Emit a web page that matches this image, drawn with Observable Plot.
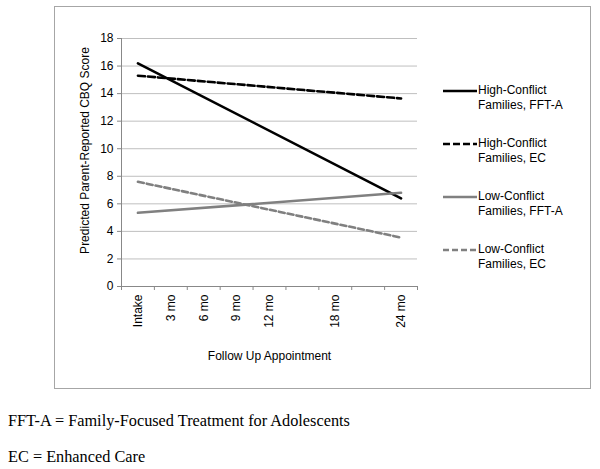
<!DOCTYPE html>
<html><head><meta charset="utf-8">
<script src="https://cdn.jsdelivr.net/npm/d3@7"></script>
<script src="https://cdn.jsdelivr.net/npm/@observablehq/plot@0.6"></script>
<style>
body{margin:0;background:#fff;font-family:"Liberation Sans",Arial,sans-serif;}
#wrap{position:relative;width:600px;height:469px;overflow:hidden;}
#frame{position:absolute;left:54px;top:6px;width:535px;height:381px;border:1px solid #a6a6a6;}
#chart{position:absolute;left:0;top:0;}
.leg{position:absolute;left:443px;font-size:12px;line-height:15px;color:#000;}
.leg svg{position:absolute;left:0;top:6px;}
.leg span{position:absolute;left:35px;top:0;white-space:nowrap;}
.cap{position:absolute;left:8px;font-family:"Liberation Serif","Times New Roman",serif;font-size:16.3px;color:#000;white-space:nowrap;}
</style></head>
<body>
<div id="wrap">
<div id="frame"></div>
<div id="chart"></div>
<div id="legend"></div>
<div class="cap" style="top:411px">FFT-A = Family-Focused Treatment for Adolescents</div>
<div class="cap" style="top:447px">EC = Enhanced Care</div>
</div>
<script>
const months = [0, 24];
const seriesNames = ["High-Conflict Families, FFT-A", "High-Conflict Families, EC", "Low-Conflict Families, FFT-A", "Low-Conflict Families, EC"];
const legendLines = [["High-Conflict", "Families, FFT-A"], ["High-Conflict", "Families, EC"], ["Low-Conflict", "Families, FFT-A"], ["Low-Conflict", "Families, EC"]];
const hcFFTA = [16.2, 6.4];
const hcEC = [15.3, 13.65];
const lcFFTA = [5.35, 6.8];
const lcEC = [7.6, 3.55];
const tickMonths = [0, 3, 6, 9, 12, 18, 24];
const tickLabels = ["Intake", "3 mo", "6 mo", "9 mo", "12 mo", "18 mo", "24 mo"];
const bandEdges = [-1.5, 1.5, 4.5, 7.5, 10.5, 13.5, 16.5, 19.5, 22.5, 25.5];
const yTicks = [0, 2, 4, 6, 8, 10, 12, 14, 16, 18];
const yLabel = "Predicted Parent-Reported CBQ Score";
const xLabel = "Follow Up Appointment";

const styles = [
  {stroke: "#000000", dash: null},
  {stroke: "#000000", dash: "7,3"},
  {stroke: "#808080", dash: null},
  {stroke: "#808080", dash: "6,3"}
];
const seriesValues = [hcFFTA, hcEC, lcFFTA, lcEC];
const rows = seriesValues.map((vals, i) => months.map((m, j) => ({series: seriesNames[i], month: m, value: vals[j]})));
const labelOf = new Map(tickMonths.map((m, i) => [m, tickLabels[i]]));

const chart = Plot.plot({
  width: 600,
  height: 390,
  marginLeft: 121,
  marginRight: 183,
  marginTop: 38,
  marginBottom: 104,
  style: {fontFamily: "Liberation Sans, Arial, sans-serif", fontSize: "12px", color: "#000", background: "transparent"},
  x: {domain: [-1.5, 25.5]},
  y: {domain: [0, 18]},
  marks: [
    Plot.gridY(yTicks, {stroke: "#bfbfbf", strokeOpacity: 1}),
    Plot.ruleX([-1.5], {stroke: "#888888"}),
    Plot.ruleY([0], {stroke: "#888888"}),
    Plot.axisY(yTicks, {tickSize: 4, tickPadding: 4, stroke: "#888888", fontSize: 12, label: null}),
    Plot.text([yLabel], {text: d => d, frameAnchor: "left", textAnchor: "middle", rotate: -90, dx: -36, dy: -12, fontSize: 12, fill: "#000"}),
    Plot.axisX(bandEdges, {tickSize: 4, stroke: "#888888", tickFormat: () => "", label: null}),
    Plot.axisX(tickMonths, {tickSize: 0, tickRotate: -90, tickPadding: 8, fontSize: 12, tickFormat: d => labelOf.get(d), label: xLabel, labelAnchor: "center", labelArrow: "none", labelOffset: 73}),
    ...rows.map((r, i) => Plot.line(r, {x: "month", y: "value", stroke: styles[i].stroke, strokeWidth: 2.6, strokeDasharray: styles[i].dash}))
  ]
});
document.getElementById("chart").appendChild(chart);

const legend = document.getElementById("legend");
legendLines.forEach((lines, i) => {
  const d = document.createElement("div");
  d.className = "leg";
  d.style.top = (82.5 + i * 53.3) + "px";
  const s = styles[i];
  d.innerHTML = `<svg width="34" height="4"><line x1="0" x2="34" y1="2" y2="2" stroke="${s.stroke}" stroke-width="2.6" ${s.dash ? `stroke-dasharray="${s.dash}"` : ""}/></svg><span>${lines[0]}<br>${lines[1]}</span>`;
  legend.appendChild(d);
});
</script>
</body></html>
